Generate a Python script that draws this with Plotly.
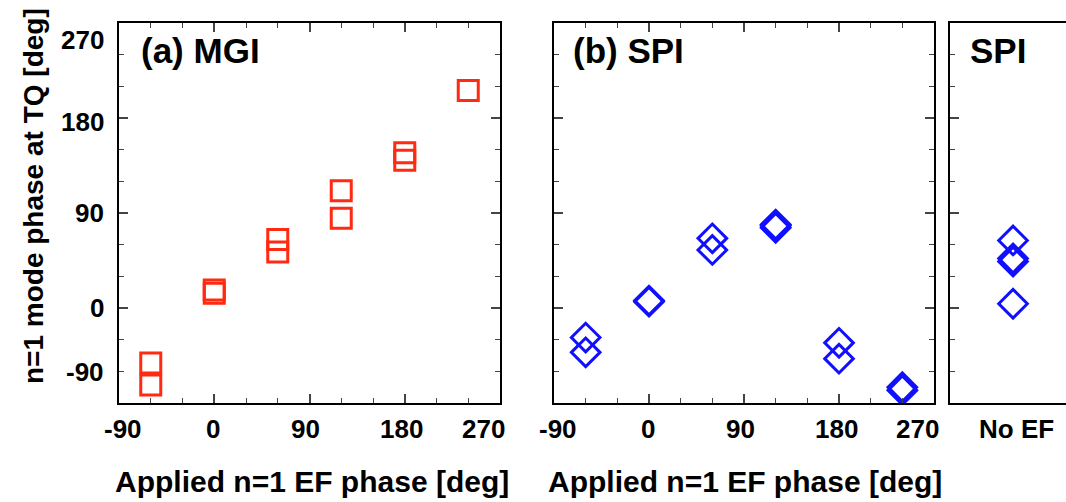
import plotly.graph_objects as go

# ---- data ----
mgi_x = [-60, -60, 0, 0, 60, 60, 120, 120, 180, 180, 240]
mgi_y = [-52, -73, 14, 17, 65, 53, 111, 85, 147, 140, 206]

spi_x = [-60, -60, 0, 0, 60, 60, 120, 120, 120, 180, 180, 240, 240]
spi_y = [-28, -42, 7, 6, 66, 55, 76, 78, 79, -33, -48, -75, -78]

noef_label = "No EF"
noef_y = [64, 47, 44, 4]

xticks = [-90, 0, 90, 180, 270]
yticks = [-90, 0, 90, 180, 270]
xtick_text = ["-90", "0", "90", "180", "270"]
ytick_text = ["-90", "0", "90", "180", "270"]

# label nudges (pixels) so end labels sit inside the frame, as in the original
x_label_shift = [4, -1, -4, -3, -17]
y_label_shift = [31, 0, 0, -4, -17]

FONT = "Liberation Sans, Arial, sans-serif"
RED = "#ff2a10"
BLUE = "#1010ff"

W, H = 1066, 502
def fx(px):
    return px / W
def fy(py):
    return 1 - py / H

fig = go.Figure()
fig.add_trace(go.Scatter(x=mgi_x, y=mgi_y, mode="markers", xaxis="x", yaxis="y",
                         marker=dict(symbol="square-open", size=20, color=RED,
                                     line=dict(width=3, color=RED))))
fig.add_trace(go.Scatter(x=spi_x, y=spi_y, mode="markers", xaxis="x2", yaxis="y2",
                         marker=dict(symbol="diamond-open", size=22, color=BLUE,
                                     line=dict(width=3, color=BLUE))))
fig.add_trace(go.Scatter(x=[0] * len(noef_y), y=noef_y, mode="markers", xaxis="x3", yaxis="y3",
                         marker=dict(symbol="diamond-open", size=22, color=BLUE,
                                     line=dict(width=3, color=BLUE))))

ydom = [fy(403), fy(23)]
minor = dict(dtick=30, tick0=0, ticks="inside", ticklen=5, tickwidth=1.2, showgrid=False)
common = dict(range=[-90, 270], tickvals=xticks, ticks="inside", ticklen=9, tickwidth=1.5,
              showline=True, linewidth=1.6, linecolor="black", mirror="ticks",
              showgrid=False, zeroline=False, showticklabels=False, automargin=False,
              minor=minor)

fig.update_layout(
    width=W, height=H, showlegend=False,
    margin=dict(l=0, r=0, t=0, b=0),
    paper_bgcolor="white", plot_bgcolor="white",
    xaxis=dict(domain=[fx(119), fx(500)], anchor="y", **common),
    yaxis=dict(domain=ydom, anchor="x", **common),
    xaxis2=dict(domain=[fx(554), fx(934)], anchor="y2", **common),
    yaxis2=dict(domain=ydom, anchor="x2", **common),
    xaxis3=dict(domain=[fx(950), 1.0], anchor="y3", range=[-1, 0.84], tickvals=[0],
                ticks="", showline=True, linewidth=1.6, linecolor="black",
                mirror=True, showgrid=False, zeroline=False, showticklabels=False,
                automargin=False),
    yaxis3=dict(domain=ydom, anchor="x3", range=[-90, 270], tickvals=yticks,
                ticks="inside", ticklen=9, tickwidth=1.5, showline=True, linewidth=1.6,
                linecolor="black", mirror=False, showgrid=False, zeroline=False,
                showticklabels=False, automargin=False, minor=minor),
)

tick_font = dict(family=FONT, size=26, color="black")
ann_font = dict(family=FONT, size=35, color="black")
lab_font = dict(family=FONT, size=30, color="black")
annotations = []
# y tick labels (panel a)
for v, t, s in zip(yticks, ytick_text, y_label_shift):
    annotations.append(dict(text=f"<b>{t}</b>", x=fx(106), y=v, xref="paper", yref="y",
                            xanchor="right", yanchor="middle", yshift=s,
                            showarrow=False, font=tick_font))
# x tick labels (panels a and b)
for xr in ["x", "x2"]:
    for v, t, s in zip(xticks, xtick_text, x_label_shift):
        annotations.append(dict(text=f"<b>{t}</b>", x=v, y=fy(429), xref=xr, yref="paper",
                                xanchor="center", yanchor="middle", xshift=s,
                                showarrow=False, font=tick_font))
# category label of panel c
annotations.append(dict(text=f"<b>{noef_label}</b>", x=0, y=fy(429), xref="x3", yref="paper",
                        xanchor="center", yanchor="middle", xshift=3,
                        showarrow=False, font=tick_font))
annotations += [
    dict(text="<b>(a) MGI</b>", x=fx(139), y=fy(50), xref="paper", yref="paper",
         xanchor="left", yanchor="middle", showarrow=False, font=ann_font),
    dict(text="<b>(b) SPI</b>", x=fx(571), y=fy(50), xref="paper", yref="paper",
         xanchor="left", yanchor="middle", showarrow=False, font=ann_font),
    dict(text="<b>SPI</b>", x=fx(968), y=fy(50), xref="paper", yref="paper",
         xanchor="left", yanchor="middle", showarrow=False, font=ann_font),
    dict(text="<b>Applied n=1 EF phase [deg]</b>", x=fx(312), y=fy(481), xref="paper", yref="paper",
         xanchor="center", yanchor="middle", showarrow=False, font=lab_font),
    dict(text="<b>Applied n=1 EF phase [deg]</b>", x=fx(745), y=fy(481), xref="paper", yref="paper",
         xanchor="center", yanchor="middle", showarrow=False, font=lab_font),
    dict(text="<b>n=1 mode phase at TQ [deg]</b>", x=fx(33), y=fy(196), xref="paper", yref="paper",
         xanchor="center", yanchor="middle", showarrow=False, textangle=-90,
         font=dict(family=FONT, size=28, color="black")),
]
fig.update_layout(annotations=annotations)

fig.write_html("out.html")
